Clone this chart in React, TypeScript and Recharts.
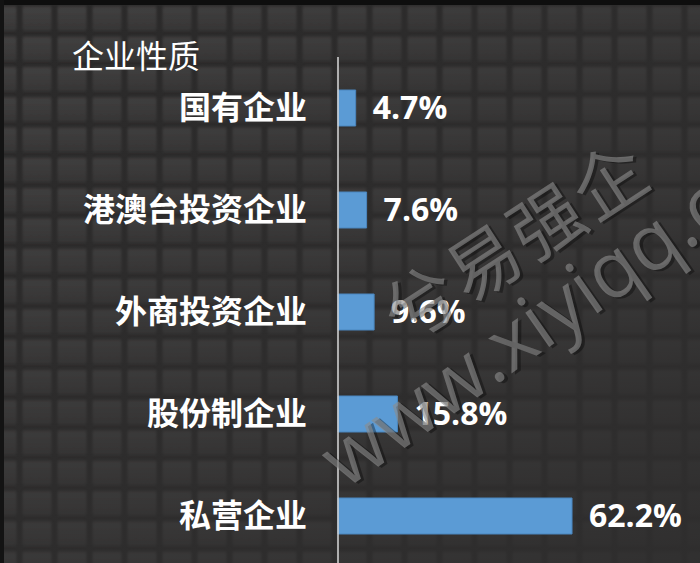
import { BarChart, Bar, XAxis, YAxis, LabelList } from 'recharts';

const categories = ['国有企业', '港澳台投资企业', '外商投资企业', '股份制企业', '私营企业'];
const shares = [4.7, 7.6, 9.6, 15.8, 62.2];

const data = categories.map((name, i) => ({ name, value: shares[i] }));

const C = {
  bar: '#5b9bd5',
  barEdge: '#4a86bf',
  axis: '#d8d8d8',
  text: '#ffffff',
  groove: '#2a2929',
};

const cjk = "'Noto Sans CJK SC', 'Noto Sans', sans-serif";
const num = "'Open Sans', 'Noto Sans', sans-serif";

// dark tiled slide backdrop
function Backdrop() {
  return (
    <svg width={700} height={563} style={{ position: 'absolute', left: 0, top: 0 }}>
      <defs>
        <linearGradient id="tileGrad" x1="0" y1="0" x2="0" y2="1">
          <stop offset="0%" stopColor="#434242" />
          <stop offset="100%" stopColor="#373636" />
        </linearGradient>
        <filter id="soft" x="-20%" y="-20%" width="140%" height="140%">
          <feGaussianBlur stdDeviation="1.3" />
        </filter>
        <pattern id="tiles" x={19.5} y={3.4} width={35} height={30.3} patternUnits="userSpaceOnUse">
          <rect x={3} y={3} width={29} height={24.3} rx={2} fill="url(#tileGrad)" filter="url(#soft)" />
        </pattern>
        <linearGradient id="fade" x1="0" y1="0" x2="1" y2="1">
          <stop offset="0%" stopColor="#313030" stopOpacity={0} />
          <stop offset="55%" stopColor="#313030" stopOpacity={0.5} />
          <stop offset="100%" stopColor="#2f2e2e" stopOpacity={0.9} />
        </linearGradient>
      </defs>
      <rect width={700} height={563} fill={C.groove} />
      <rect width={700} height={563} fill="url(#tiles)" />
      <rect width={700} height={563} fill="url(#fade)" />
      <rect width={700} height={5} fill="#0e0e0e" />
      <rect width={4} height={563} fill="#131313" />
    </svg>
  );
}

function Watermark() {
  const common = { fill: '#8c8c8c', fillOpacity: 0.62 };
  const shadow = { fill: '#000000', fillOpacity: 0.35 };
  return (
    <svg width={700} height={563} style={{ position: 'absolute', left: 0, top: 0, pointerEvents: 'none' }}>
      <g transform="rotate(-33 515 243)">
        <text x={519} y={272} textAnchor="middle" fontSize={72} fontFamily={cjk} letterSpacing={3} {...shadow}>兮易强企</text>
        <text x={517} y={269} textAnchor="middle" fontSize={72} fontFamily={cjk} letterSpacing={3} {...common}>兮易强企</text>
      </g>
      <g transform="rotate(-35 345 490)">
        <text x={347} y={493} fontSize={78} fontFamily={num} {...shadow}>www.xiyiqq.com</text>
        <text x={345} y={490} fontSize={78} fontFamily={num} {...common}>www.xiyiqq.com</text>
      </g>
    </svg>
  );
}

export default function App() {
  return (
    <div style={{ position: 'absolute', left: 0, top: 0, width: 700, height: 563, overflow: 'hidden' }}>
      <Backdrop />
      <div style={{ position: 'absolute', left: 72, top: 35, color: C.text, fontFamily: cjk, fontSize: 32, lineHeight: '38px' }}>
        企业性质
      </div>
      <div style={{ position: 'absolute', left: 0, top: 0 }}>
        <BarChart
          width={700}
          height={580}
          data={data}
          layout="vertical"
          margin={{ top: 57, right: 61, bottom: 13, left: 0 }}
          barSize={36}
        >
          <XAxis type="number" domain={[0, 80]} hide />
          <YAxis
            type="category"
            dataKey="name"
            width={338}
            axisLine={{ stroke: C.axis, strokeWidth: 1.5 }}
            tickLine={false}
            tickMargin={25}
            tick={{ fill: C.text, fontSize: 32, fontWeight: 700, fontFamily: cjk }}
          />
          <Bar dataKey="value" fill={C.bar} stroke={C.barEdge} strokeWidth={1} isAnimationActive={false}>
            <LabelList
              dataKey="value"
              position="right"
              offset={17}
              formatter={(v: number) => `${v}%`}
              style={{ fill: C.text, fontSize: 32, fontWeight: 700, fontFamily: num }}
            />
          </Bar>
        </BarChart>
      </div>
      <Watermark />
    </div>
  );
}
